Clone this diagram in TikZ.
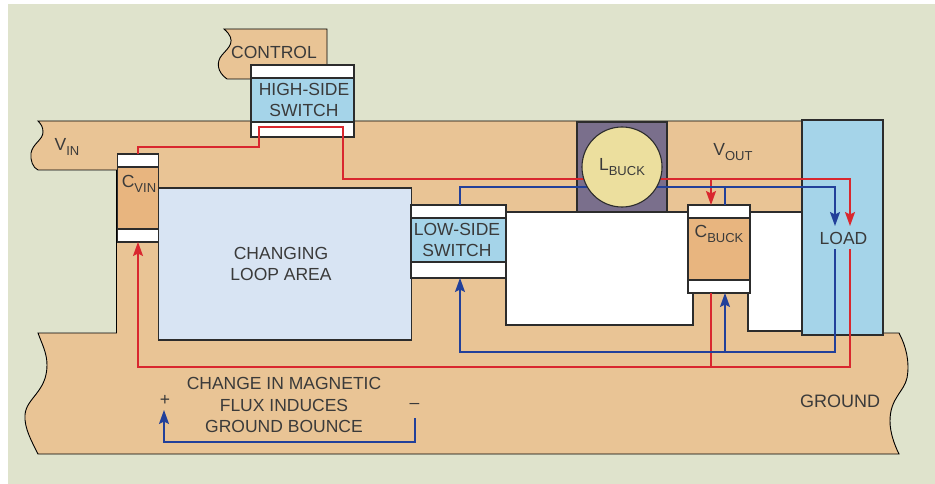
\documentclass[tikz,border=0pt]{standalone}
\usepackage{fontspec}
\setmainfont{Liberation Sans}
\usetikzlibrary{arrows.meta}
\definecolor{bgc}{HTML}{DFE3CC}
\definecolor{copper}{HTML}{E9C495}
\definecolor{capc}{HTML}{E8B57F}
\definecolor{swc}{HTML}{A5D4E9}
\definecolor{loopc}{HTML}{D8E4F3}
\definecolor{coilc}{HTML}{ECDF9E}
\definecolor{boxc}{HTML}{7A6F8C}
\definecolor{wirered}{HTML}{D9272E}
\definecolor{wireblue}{HTML}{22409A}
\definecolor{inkc}{HTML}{3A3A3A}
\definecolor{edgec}{HTML}{2C2C2C}
\newcommand{\lowtxt}[1]{\raisebox{-0.28em}{\fontsize{13}{14}\selectfont #1}}
\tikzset{
  partbox/.style={draw=edgec,line width=1.7pt,inner sep=0pt,outer sep=0pt,text=inkc,align=center,
    font=\fontsize{17.5}{21}\selectfont},
  endcap/.style={partbox,fill=white},
  lbl/.style={inner sep=0pt,text=inkc,align=center,font=\fontsize{17.5}{21}\selectfont},
  redwire/.style={draw=wirered,line width=1.7pt},
  bluewire/.style={draw=wireblue,line width=1.7pt},
  wiretip/.style={-{Stealth[length=14pt,width=10pt,inset=2.5pt]}},
  board/.style={fill=copper,draw=black,line width=0.9pt},
  hole/.style={fill=white,draw=edgec,line width=1.7pt}
}
\begin{document}
\begin{tikzpicture}[x=1pt,y=-1pt]
\useasboundingbox (0,0) rectangle (935,484);
\fill[white] (0,0) rectangle (935,484);
\fill[bgc] (8,4) rectangle (935,484);
% control tab
\path[board] (224,29) -- (327,29) -- (327,66) -- (260,79) -- (227,79)
  .. controls (217,72) and (216,62) .. (222,55)
  .. controls (228,48) and (238,41) .. (224,29) -- cycle;
% main copper
\path[board] (38,121) -- (803,121) -- (803,333) -- (899,333)
  .. controls (906,346) and (910,362) .. (907,378)
  .. controls (904,392) and (890,398) .. (890,421)
  .. controls (890,432) and (894,444) .. (899,454)
  -- (38,454)
  .. controls (32,442) and (24,428) .. (25,415)
  .. controls (26,398) and (47,392) .. (47,365)
  .. controls (47,353) and (42,344) .. (38,333)
  -- (116.5,333) -- (116.5,170) -- (38,170)
  .. controls (33,168) and (30,160) .. (31,153)
  .. controls (33,143) and (43,140) .. (43,132)
  .. controls (43,127) and (41,124) .. (38,121) -- cycle;
% openings in the copper
\draw[hole] (506,212) rectangle (693,325);
\draw[hole] (748,212) rectangle (802,331);
% parts
\node[partbox,fill=boxc,minimum width=90pt,minimum height=90pt] (lbox) at (622,167) {};
\node[partbox,fill=loopc,minimum width=253pt,minimum height=152pt] (loop) at (285,264) {};
\node[partbox,fill=swc,minimum width=81pt,minimum height=215pt,line width=1.1pt] (load) at (842.5,227.5) {};
\node[endcap,minimum width=103pt,minimum height=13pt] (hstop) at (302.5,71.5) {};
\node[partbox,fill=swc,minimum width=103pt,minimum height=44pt] (hs) at (302.5,100) {};
\node[endcap,minimum width=103pt,minimum height=15pt] (hsbot) at (302.5,129.5) {};
\node[endcap,minimum width=41pt,minimum height=13pt] (cvtop) at (138,160.5) {};
\node[partbox,fill=capc,minimum width=41pt,minimum height=62pt] (cv) at (138,198) {};
\node[endcap,minimum width=41pt,minimum height=13pt] (cvbot) at (138,235.5) {};
\node[endcap,minimum width=95pt,minimum height=13pt] (lstop) at (458.5,211.5) {};
\node[partbox,fill=swc,minimum width=95pt,minimum height=44pt] (ls) at (458.5,240) {};
\node[endcap,minimum width=95pt,minimum height=16pt] (lsbot) at (458.5,270) {};
\node[endcap,minimum width=62pt,minimum height=13pt] (cbtop) at (719,211.5) {};
\node[partbox,fill=capc,minimum width=62pt,minimum height=62pt] (cb) at (719,249) {};
\node[endcap,minimum width=62pt,minimum height=13pt] (cbbot) at (719,286.5) {};
% wire corners
\coordinate (r1) at (259,147);
\coordinate (r2) at (343,127);
\coordinate (r3) at (850,179);
\coordinate (r4) at (711,179);
\coordinate (r5) at (850,226);
\coordinate (r6) at (850,249);
\coordinate (r7) at (711,367);
\coordinate (b1) at (460,187);
\coordinate (b3) at (835,226);
\coordinate (b4) at (835,249);
\coordinate (b5) at (460,352);
\coordinate (b6) at (725,352);
\coordinate (b7) at (725,187);
\coordinate (g1) at (415,418);
\coordinate (g2) at (164,442);
\coordinate (g3) at (164,410);
% red wires
\draw[redwire,wiretip] (r4) -- (cbtop.north -| r4);
\draw[redwire,wiretip] (cvtop.north) |- (r1) |- (r2) |- (r3) -- (r5);
\draw[redwire,wiretip] (r6) |- (cvbot.south |- r7) -- (cvbot.south);
\draw[redwire] (r7) -- (cbbot.south -| r7);
% blue wires
\draw[bluewire,wiretip] (lstop.north -| b1) -- (b1) -| (b3);
\draw[bluewire] (b7) -- (cbtop.north -| b7);
\draw[bluewire,wiretip] (b4) |- (b5) -- (lsbot.south -| b5);
\draw[bluewire,wiretip] (b6) -- (cbbot.south -| b6);
\draw[bluewire,wiretip] (g1) |- (g2) -- (g3);
% inductor over the wires
\node[circle,draw=edgec,line width=1.1pt,fill=coilc,minimum size=80pt,inner sep=0pt,text=inkc,font=\fontsize{17.5}{21}\selectfont] (lcoil) at (622,167) {L\lowtxt{BUCK}};
% labels
\node[lbl] (tcontrol) at (274,52) {CONTROL};
\node[lbl] (ths) at (304,100) {HIGH-SIDE\\SWITCH};
\node[lbl] (tls) at (457,240) {LOW-SIDE\\SWITCH};
\node[lbl] (tloop) at (281,264) {CHANGING\\LOOP AREA};
\node[lbl] (tvin) at (67,147) {V\lowtxt{IN}};
\node[lbl] (tcvin) at (139,184) {C\lowtxt{VIN}};
\node[lbl] (tvout) at (733,152) {V\lowtxt{OUT}};
\node[lbl] (tcbuck) at (719,234) {C\lowtxt{BUCK}};
\node[lbl] (tload) at (843.5,238) {LOAD};
\node[lbl,font=\fontsize{18}{21}\selectfont] (tground) at (840,401) {GROUND};
\node[lbl,font=\fontsize{17.5}{21.5}\selectfont] (tflux) at (284,405) {CHANGE IN MAGNETIC\\FLUX INDUCES\\GROUND BOUNCE};
\node[lbl] (tplus) at (165,400) {+};
\node[lbl] (tminus) at (414.5,406) {–};
\end{tikzpicture}
\end{document}
